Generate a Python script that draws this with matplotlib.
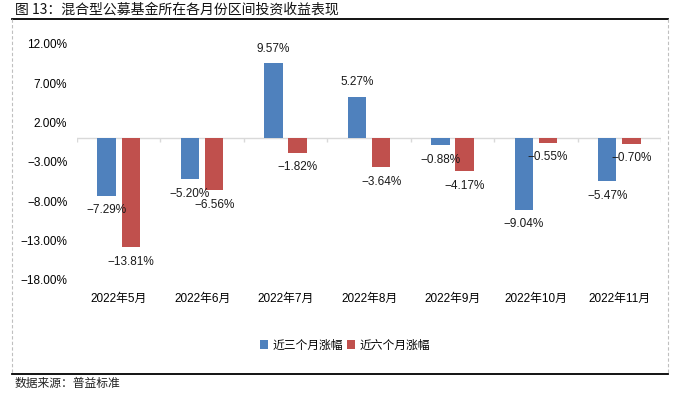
import numpy as np
import matplotlib.pyplot as plt
from matplotlib.lines import Line2D

plt.rcParams['font.family'] = ['Liberation Sans', 'Noto Sans CJK SC', 'DejaVu Sans']

# Daten
months = ['2022年5月', '2022年6月', '2022年7月', '2022年8月', '2022年9月', '2022年10月', '2022年11月']
three_month = [-7.29, -5.20, 9.57, 5.27, -0.88, -9.04, -5.47]
six_month = [-13.81, -6.56, -1.82, -3.64, -4.17, -0.55, -0.70]
series_names = ['近三个月涨幅', '近六个月涨幅']
y_ticks = [-18, -13, -8, -3, 2, 7, 12]

blue = '#4F81BD'
red = '#C0504D'
grey = '#D9D9D9'


def pct(v):
    # Echtes Minuszeichen wie im Original
    return f"{v:.2f}%".replace('-', '\u2212')


fig = plt.figure(figsize=(6.79, 3.95), dpi=100)
ax = fig.add_axes([77 / 679, 1 - 280 / 395, 584 / 679, 236 / 395])

x = np.arange(len(months))
w = 0.22
off = 0.145
b1 = ax.bar(x - off, three_month, w, color=blue, label=series_names[0], zorder=2)
b2 = ax.bar(x + off, six_month, w, color=red, label=series_names[1], zorder=2)

# Datenbeschriftungen
for bars, vals in [(b1, three_month), (b2, six_month)]:
    for rect, v in zip(bars, vals):
        dy = 10.5 if v > 0 else -10.5
        ax.annotate(pct(v), (rect.get_x() + rect.get_width() / 2, v),
                    xytext=(0, dy), textcoords='offset points',
                    ha='center', va='center', fontsize=8.5, color='#1a1a1a')

# Nulllinie mit Kategorie-Ticks
ax.axhline(0, color=grey, linewidth=1, zorder=1)
ax.vlines(np.arange(-0.5, len(months)), -0.5, 0, color=grey, linewidth=1, zorder=1)

ax.set_xlim(-0.5, len(months) - 0.5)
ax.set_ylim(-18, 12)
ax.set_yticks(y_ticks)
ax.set_yticklabels([pct(t) for t in y_ticks], fontsize=8.5)
ax.set_xticks(x)
ax.set_xticklabels(months, fontsize=8.5)
ax.tick_params(axis='both', length=0)
ax.tick_params(axis='y', pad=7)
ax.tick_params(axis='x', pad=9)
for s in ax.spines.values():
    s.set_visible(False)

fig.legend(handles=[b1, b2], labels=series_names, loc='center',
           bbox_to_anchor=(345 / 679, 1 - 345 / 395), ncol=2, frameon=False,
           handlelength=0.7, handleheight=0.7, handletextpad=0.4,
           columnspacing=0.3, prop={'family': ['Noto Sans CJK SC'], 'size': 8.5})

# Rahmen
fig.add_artist(Line2D([12 / 679, 668 / 679], [1 - 19 / 395] * 2, color='black', linewidth=1.3))
fig.add_artist(Line2D([12 / 679, 668 / 679], [1 - 374 / 395] * 2, color='black', linewidth=1.3))
for xx in [12, 668]:
    fig.add_artist(Line2D([xx / 679] * 2, [1 - 19 / 395, 1 - 374 / 395], color='#BFBFBF',
                          linewidth=0.8, linestyle=(0, (3, 2))))

fig.text(15 / 679, 1 - 10 / 395, '图 13：混合型公募基金所在各月份区间投资收益表现',
         family=['Noto Sans CJK SC'], fontsize=10, va='center', ha='left', color='#111111')
fig.text(15 / 679, 1 - 383 / 395, '数据来源：普益标准',
         family=['Noto Sans CJK SC'], fontsize=8.5, va='center', ha='left', color='#222222')

plt.savefig('out.png', dpi=100)
